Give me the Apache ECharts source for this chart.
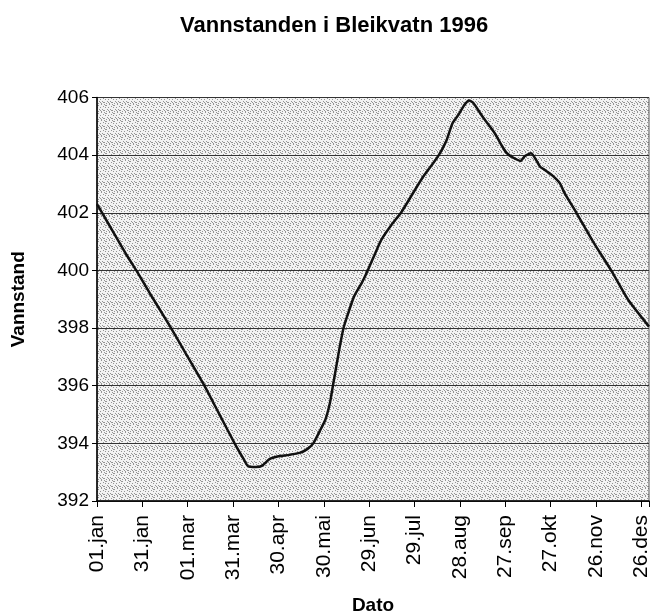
<!DOCTYPE html>
<html>
<head>
<meta charset="utf-8">
<script src="https://cdn.jsdelivr.net/npm/echarts@6/dist/echarts.min.js"></script>
<style>
html,body{margin:0;padding:0;background:#fff;}
#chart{width:652px;height:615px;}
</style>
</head>
<body>
<div id="chart"></div>
<script>
// Day of year (0 = 01.jan 1996) and water level (m)
const days = [0, 3, 10, 20, 26, 35, 49, 60, 71, 80, 91, 97, 100, 105, 109, 114, 120, 127, 134, 139, 143, 148, 151, 154, 156, 160, 163, 166, 170, 175, 179, 184, 188, 195, 201, 208, 215, 222, 226, 231, 235, 239, 243, 246, 249, 255, 263, 268, 271, 274, 280, 283, 287, 293, 296, 301, 306, 309, 317, 328, 340, 351, 365];
const levels = [402.3, 402.03, 401.4, 400.5, 400.0, 399.2, 398.0, 397.0, 396.0, 395.1, 394.0, 393.45, 393.2, 393.18, 393.22, 393.45, 393.55, 393.6, 393.67, 393.8, 394.0, 394.5, 394.82, 395.4, 396.0, 397.2, 398.0, 398.5, 399.1, 399.56, 400.0, 400.6, 401.06, 401.6, 402.0, 402.6, 403.2, 403.7, 404.0, 404.5, 405.1, 405.4, 405.75, 405.9, 405.8, 405.33, 404.76, 404.3, 404.07, 403.95, 403.8, 403.97, 404.07, 403.6, 403.49, 403.3, 403.03, 402.7, 402.0, 401.0, 400.0, 399.0, 398.05];
const tickLabels = ['01.jan', '31.jan', '01.mar', '31.mar', '30.apr', '30.mai', '29.jun', '29.jul', '28.aug', '27.sep', '27.okt', '26.nov', '26.des'];
const titleText = 'Vannstanden i Bleikvatn 1996';
const yName = 'Vannstand';
const xName = 'Dato';

const FONT = "'Liberation Sans', Arial, Helvetica, sans-serif";

// stipple background pattern
const pc = document.createElement('canvas');
pc.width = 8; pc.height = 8;
const pctx = pc.getContext('2d');
pctx.fillStyle = '#f3f3f3';
pctx.fillRect(0, 0, 8, 8);
pctx.fillStyle = '#959595';
[[0,0],[5,0],[2,1],[7,2],[4,3],[1,3],[6,5],[3,5],[0,6],[5,7],[2,7],[7,6],[1,1],[4,6]].forEach(p => pctx.fillRect(p[0], p[1], 1, 1));

const chart = echarts.init(document.getElementById('chart'), null, {renderer: 'canvas'});
chart.setOption({
  animation: false,
  backgroundColor: '#fff',
  title: {
    text: titleText,
    left: 175,
    top: 10,
    textStyle: {fontFamily: FONT, fontSize: 22, fontWeight: 'bold', color: '#000'}
  },
  grid: {
    left: 97, right: 3, top: 97.5, bottom: 114,
    outerBoundsMode: 'none',
    containLabel: false,
    show: true,
    backgroundColor: {image: pc, repeat: 'repeat'},
    borderColor: '#555',
    borderWidth: 1
  },
  xAxis: {
    type: 'value',
    min: 0, max: 365, interval: 30,
    name: xName,
    nameLocation: 'middle',
    nameGap: 95,
    nameTextStyle: {fontFamily: FONT, fontSize: 19, fontWeight: 'bold', color: '#000'},
    axisLine: {show: true, lineStyle: {color: '#000', width: 1.5}},
    axisTick: {show: true, length: 6, inside: false, lineStyle: {color: '#000'}},
    axisLabel: {
      rotate: 90, margin: 14,
      fontFamily: FONT, fontSize: 21, color: '#000',
      formatter: v => (v % 30 === 0 && tickLabels[v / 30] !== undefined) ? tickLabels[v / 30] : ''
    },
    splitLine: {show: false}
  },
  yAxis: {
    type: 'value',
    min: 392, max: 406, interval: 2,
    name: yName,
    nameLocation: 'middle',
    nameRotate: 90,
    nameGap: 69,
    nameTextStyle: {fontFamily: FONT, fontSize: 19, fontWeight: 'bold', color: '#000'},
    axisLine: {show: true, lineStyle: {color: '#000', width: 1.5}},
    axisTick: {show: true, length: 5, lineStyle: {color: '#000'}},
    axisLabel: {margin: 8, fontFamily: FONT, fontSize: 19, color: '#000'},
    splitLine: {show: true, lineStyle: {color: '#333', width: 1}}
  },
  series: [{
    type: 'line',
    data: days.map((d, i) => [d, levels[i]]),
    showSymbol: false,
    symbol: 'none',
    smooth: 0.2,
    lineStyle: {color: '#111', width: 2.5}
  }]
});
</script>
</body>
</html>
